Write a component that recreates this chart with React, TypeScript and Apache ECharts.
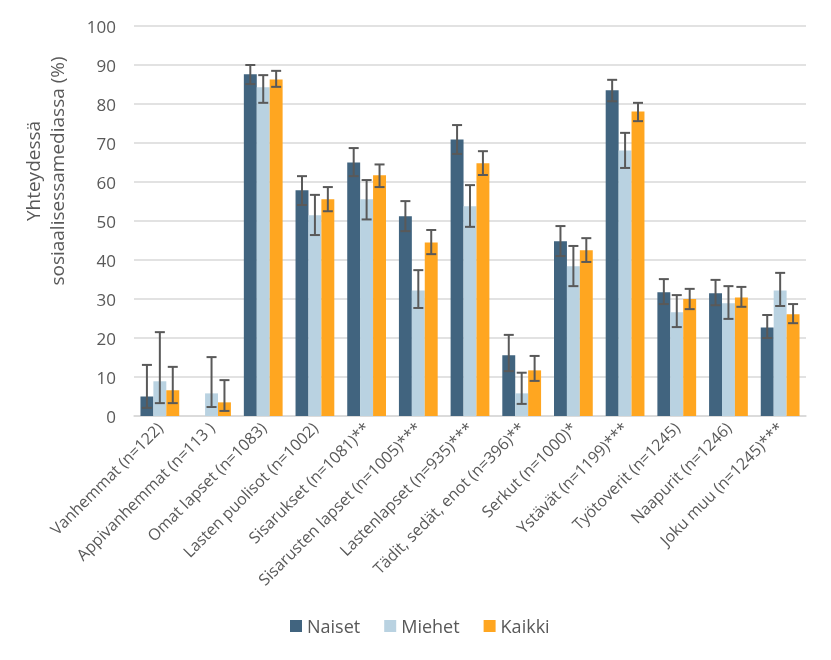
import React, { useEffect, useRef } from "react";
import * as echarts from "echarts";

const categories = [
  "Vanhemmat (n=122)",
  "Appivanhemmat (n=113 )",
  "Omat lapset (n=1083)",
  "Lasten puolisot (n=1002)",
  "Sisarukset (n=1081)**",
  "Sisarusten lapset (n=1005)***",
  "Lastenlapset (n=935)***",
  "Tädit, sedät, enot (n=396)**",
  "Serkut (n=1000)*",
  "Ystävät (n=1199)***",
  "Työtoverit (n=1245)",
  "Naapurit (n=1246)",
  "Joku muu (n=1245)***",
];

const seriesNames = ["Naiset", "Miehet", "Kaikki"];

const naiset = [5.0, 0, 87.6, 57.9, 65.0, 51.2, 70.9, 15.6, 44.8, 83.5, 31.7, 31.5, 22.7];
const naisetLow = [2.1, null, 85.1, 54.1, 61.5, 47.4, 67.2, 11.5, 41.0, 80.7, 28.7, 28.4, 20.0];
const naisetHigh = [13.1, null, 90.0, 61.5, 68.7, 55.1, 74.6, 20.8, 48.7, 86.2, 35.1, 34.9, 25.9];

const miehet = [8.9, 5.8, 84.3, 51.5, 55.6, 32.2, 53.8, 5.8, 38.4, 68.1, 26.6, 28.9, 32.2];
const miehetLow = [3.3, 2.3, 80.3, 46.4, 50.4, 27.7, 48.5, 3.1, 33.3, 63.6, 22.8, 24.9, 28.2];
const miehetHigh = [21.5, 15.1, 87.4, 56.7, 60.5, 37.4, 59.2, 11.1, 43.6, 72.6, 31.0, 33.3, 36.7];

const kaikki = [6.6, 3.5, 86.3, 55.6, 61.7, 44.5, 64.8, 11.7, 42.5, 78.1, 30.0, 30.4, 26.1];
const kaikkiLow = [3.3, 1.3, 84.4, 52.5, 58.7, 41.5, 61.8, 9.0, 39.5, 75.6, 27.4, 28.0, 23.8];
const kaikkiHigh = [12.6, 9.2, 88.5, 58.7, 64.5, 47.7, 67.9, 15.4, 45.6, 80.3, 32.6, 33.1, 28.7];

const yTicks = { min: 0, max: 100, interval: 10 };

const COLORS = ["#41647F", "#B9D2E1", "#FFA620"];
const TEXT = "#595959";
const FONT = "'Open Sans', sans-serif";

export default function App() {
  const ref = useRef<HTMLDivElement>(null);

  useEffect(() => {
    if (!ref.current) return;
    const chart = echarts.init(ref.current, undefined, { renderer: "svg" });

    const errData = categories.map((_, i) => [
      i,
      naisetLow[i], naisetHigh[i],
      miehetLow[i], miehetHigh[i],
      kaikkiLow[i], kaikkiHigh[i],
    ]);

    const renderItem = (params: any, api: any) => {
      const idx = api.value(0);
      const band = api.size([1, 0])[0];
      const bw = band * 0.25;
      const children: any[] = [];
      for (let k = 0; k < 3; k++) {
        const lo = api.value(1 + k * 2);
        const hi = api.value(2 + k * 2);
        if (lo == null || hi == null || isNaN(lo) || isNaN(hi)) continue;
        const pLo = api.coord([idx, lo]);
        const pHi = api.coord([idx, hi]);
        const x = pLo[0] + (k - 1) * bw;
        const style = { stroke: "#595959", lineWidth: 2 };
        const cap = 5;
        children.push({ type: "line", shape: { x1: x, y1: pLo[1], x2: x, y2: pHi[1] }, style });
        children.push({ type: "line", shape: { x1: x - cap, y1: pLo[1], x2: x + cap, y2: pLo[1] }, style });
        children.push({ type: "line", shape: { x1: x - cap, y1: pHi[1], x2: x + cap, y2: pHi[1] }, style });
      }
      return { type: "group", children };
    };

    const values = [naiset, miehet, kaikki];

    chart.setOption({
      animation: false,
      textStyle: { fontFamily: FONT },
      grid: { left: 134, right: 25, top: 26, bottom: 244, containLabel: false },
      legend: {
        data: seriesNames,
        left: 285,
        top: 612,
        itemWidth: 12,
        itemHeight: 12,
        itemGap: 24,
        icon: "rect",
        textStyle: { color: TEXT, fontSize: 18, fontFamily: FONT },
      },
      graphic: [
        {
          type: "text",
          x: 45,
          y: 171,
          rotation: Math.PI / 2,
          style: {
            text: "Yhteydessä\nsosiaalisessamediassa (%)",
            fill: TEXT,
            font: `19px ${FONT}`,
            align: "center",
            verticalAlign: "middle",
            lineHeight: 24,
          },
        },
      ],
      xAxis: {
        type: "category",
        data: categories,
        axisLine: { lineStyle: { color: "#D9D9D9", width: 1.5 } },
        axisTick: { show: false },
        axisLabel: {
          rotate: 45,
          interval: 0,
          color: TEXT,
          fontSize: 16,
          margin: 9,
          fontFamily: FONT,
        },
      },
      yAxis: {
        type: "value",
        min: yTicks.min,
        max: yTicks.max,
        interval: yTicks.interval,
        axisLine: { show: false },
        axisTick: { show: false },
        axisLabel: { color: TEXT, fontSize: 17, margin: 18, fontFamily: FONT },
        splitLine: { lineStyle: { color: "#D9D9D9", width: 1.5 } },
      },
      series: [
        ...seriesNames.map((name, k) => ({
          name,
          type: "bar",
          data: values[k],
          barWidth: "25%",
          barGap: "0%",
          itemStyle: { color: COLORS[k] },
        })),
        {
          type: "custom",
          name: "err",
          renderItem,
          data: errData,
          z: 10,
          encode: { x: 0, y: [1, 2, 3, 4, 5, 6] },
          silent: true,
        },
      ],
    });

    return () => chart.dispose();
  }, []);

  return (
    <div
      ref={ref}
      style={{ position: "fixed", left: 0, top: 0, width: 831, height: 660 }}
    />
  );
}
